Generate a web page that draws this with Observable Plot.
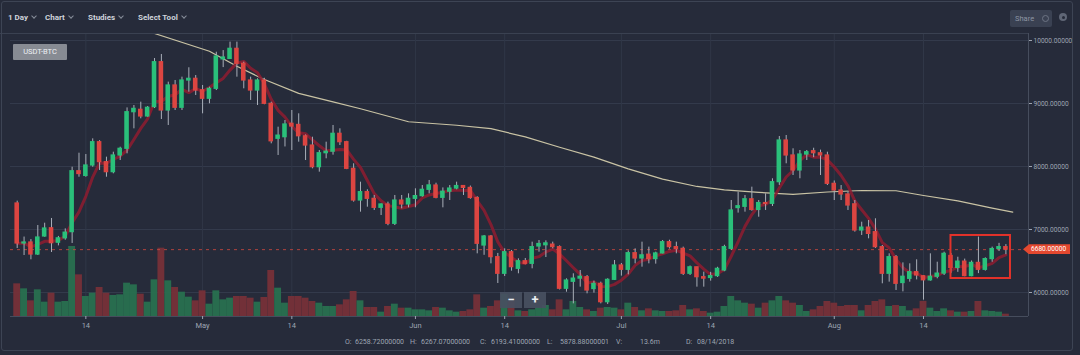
<!DOCTYPE html>
<html><head><meta charset="utf-8">
<script src="https://cdn.jsdelivr.net/npm/d3@7"></script>
<script src="https://cdn.jsdelivr.net/npm/@observablehq/plot@0.6"></script>
<style>
html,body{margin:0;padding:0;background:#262b3a;}
#wrap{position:relative;width:1080px;height:355px;overflow:hidden;background:#262b3a;font-family:Roboto,"Open Sans",sans-serif;}
.layer{position:absolute;left:0;top:0;}
.tb{position:absolute;top:13px;font-size:8px;font-weight:700;color:#cfd3db;white-space:nowrap;line-height:10px;}
.chev{display:inline-block;width:3px;height:3px;border-right:1px solid #878d9a;border-bottom:1px solid #878d9a;transform:rotate(45deg);margin-left:4px;position:relative;top:-2px;}
.info{position:absolute;top:338px;font-size:7px;color:#9ea5b2;white-space:nowrap;line-height:8px;}
</style></head><body>
<div id="wrap"></div>
<script>
// ---- data ----
const startDate = "2018-04-04", endDate = "2018-08-27"; // daily candles, Apr 4 .. Aug 26
const open = [
7413,6778,6794,6603,6889,7020,6790,6860,6958,7925,
7850,8016,8386,8069,7910,8175,8281,8862,8900,8794,
8942,9656,8889,9286,8932,9365,9392,9210,9075,9233,
9700,9708,9868,9630,9365,9206,9365,8995,8440,8465,
8678,8660,8480,8333,7989,8211,8235,8519,8386,7963,
7460,7593,7487,7344,7397,7090,7460,7397,7487,7530,
7630,7698,7503,7600,7650,7690,7660,7500,6746,6889,
6561,6297,6640,6376,6497,6455,6730,6750,6760,6720,
6059,6170,6220,6243,6055,6138,5846,6201,6429,6360,
6624,6540,6600,6530,6620,6799,6720,6693,6297,6400,
6243,6230,6260,6349,6693,7340,7360,7480,7310,7420,
7407,7751,8413,8175,7937,8190,8243,8210,8175,7725,
7619,7556,7400,6984,7030,6958,6720,6297,6561,6150,
6217,6323,6258.72,6193,6250,6300,6580,6390,6490,6260,
6470,6360,6530,6690,6720];
const high = [
7450,6880,6840,7063,7100,7175,6890,7010,7989,8211,
8190,8439,8410,8148,8227,8306,8930,8968,9021,8952,
9714,9778,9339,9365,9418,9567,9444,9286,9259,9814,
9840,9974,9974,9656,9418,9392,9400,9020,8624,8730,
8889,8836,8500,8465,8254,8386,8651,8598,8400,8043,
7751,7630,7540,7407,7434,7540,7540,7566,7646,7698,
7778,7735,7660,7698,7751,7698,7690,7520,6905,6905,
6620,6693,6667,6535,6540,6799,6825,6820,6799,6740,
6217,6297,6349,6270,6180,6164,6217,6508,6460,6660,
6693,6799,6720,6640,6825,6830,6799,6720,6420,6402,
6323,6320,6400,6750,7460,7593,7540,7672,7460,7566,
7805,8476,8492,8281,8254,8254,8290,8260,8227,7770,
7698,7593,7460,7116,7143,7170,6746,6614,6587,6470,
6455,6519,6267.07,6614,6481,6640,6620,6560,6530,6500,
6880,6550,6720,6780,6760];
const low = [
6698,6587,6519,6587,6878,6635,6740,6830,6778,7830,
7830,7989,7937,7830,7884,8095,8201,8598,8757,8783,
8920,8746,8651,8889,8889,9180,9127,8836,8995,9206,
9570,9700,9418,9233,9048,8968,8980,8360,8175,8310,
8254,8386,8095,7963,7910,8122,8180,8333,7950,7434,
7275,7354,7302,7222,7060,7063,7328,7344,7344,7513,
7566,7487,7344,7460,7630,7540,7480,6614,6590,6455,
6143,6254,6338,6297,6440,6376,6640,6555,6693,6040,
6005,5820,6085,5979,5990,5820,5810,6190,6260,6280,
6455,6402,6455,6450,6614,6690,6614,6270,6270,6085,
6085,6180,6240,6330,6667,7260,7275,7290,7195,7302,
7365,7700,8043,7857,7805,8095,8140,7857,7698,7460,
7460,7302,6958,6905,6852,6700,6138,6164,6032,6010,
6164,6200,5878.88,6180,6217,6270,6300,6320,6250,6250,
6300,6340,6480,6650,6600];
const close = [
6778,6794,6603,6873,7016,6782,6860,6950,7925,7880,
8016,8386,8069,7910,8175,8281,8862,8915,8794,8932,
9656,8889,9286,8932,9365,9392,9206,9075,9233,9746,
9730,9868,9630,9365,9206,9365,8995,8400,8490,8667,
8635,8480,8333,7989,8211,8235,8519,8386,7963,7460,
7593,7487,7344,7397,7090,7460,7397,7487,7530,7630,
7700,7503,7600,7650,7690,7660,7500,6773,6889,6561,
6297,6640,6402,6497,6455,6720,6770,6780,6720,6059,
6190,6220,6250,6032,6137,5846,6201,6429,6360,6624,
6540,6590,6530,6620,6799,6720,6690,6297,6400,6243,
6220,6260,6376,6720,7302,7370,7480,7310,7420,7405,
7751,8413,8175,7937,8190,8227,8210,8175,7725,7619,
7556,7381,6984,7030,6930,6720,6297,6561,6138,6250,
6323,6270,6193.41,6250,6300,6614,6390,6490,6260,6470,
6360,6530,6690,6720,6680];
// volume, millions
const volume = [
29.4,24.9,14.1,24.0,12.9,21.0,12.9,13.5,63.0,37.5,
18.0,21.0,26.1,21.0,18.9,19.5,30.0,28.5,20.1,12.9,
33.0,61.5,32.1,26.1,21.9,17.4,14.1,23.1,11.1,23.1,
15.0,16.5,18.0,18.0,16.5,12.9,17.1,41.4,25.5,12.0,
18.0,18.0,16.5,13.5,12.0,9.0,9.0,10.5,15.0,22.5,
14.1,8.1,8.1,3.9,9.0,11.1,7.5,7.5,6.0,6.0,
5.1,8.1,7.5,5.1,3.9,4.5,6.0,19.5,7.5,9.0,
14.1,19.8,13.5,5.1,4.5,6.0,7.5,9.9,6.0,15.0,
6.0,13.5,8.1,6.0,4.5,7.5,8.1,7.5,6.0,12.0,
8.1,5.1,6.9,5.1,4.5,4.5,5.1,9.9,6.0,6.9,
4.5,3.0,3.9,9.0,18.0,14.1,12.0,11.1,7.5,12.0,
14.1,18.0,14.1,12.0,9.9,4.5,6.0,9.0,13.5,12.0,
9.0,9.9,9.9,5.1,9.9,13.5,15.0,9.0,9.9,9.0,
5.1,6.9,13.6,7.5,4.5,6.9,5.1,3.9,3.9,4.5,
13.5,5.1,4.5,3.9,2.1];
// long moving average
const maDates = ["2018-04-18","2018-04-24","2018-05-02","2018-05-06","2018-05-10","2018-05-15","2018-05-20","2018-05-24","2018-05-31","2018-06-07","2018-06-12","2018-06-17","2018-06-22","2018-06-27","2018-07-02","2018-07-07","2018-07-12","2018-07-16","2018-07-21","2018-07-26","2018-07-31","2018-08-05","2018-08-10","2018-08-14","2018-08-19","2018-08-24","2018-08-27"];
const maValues = [10320,10111,9830,9590,9380,9160,9025,8916,8710,8655,8600,8470,8306,8148,7963,7800,7683,7630,7590,7556,7595,7619,7615,7540,7455,7340,7275];
const yTicks = [6000,7000,8000,9000,10000];
const xTickDates = ["2018-04-14","2018-05-01","2018-05-14","2018-06-01","2018-06-14","2018-07-01","2018-07-14","2018-08-01","2018-08-14"];
const xTickLabels = ["14","May","14","Jun","14","Jul","14","Aug","14"];
const lastPrice = 6680;
const boxX = ["2018-08-18T00:00Z","2018-08-26T16:00Z"];
const boxY = [6222, 6905];
const infoLabels = ["O:","6258.72000000","H:","6267.07000000","C:","6193.41000000","L:","5878.88000001","V:","13.6m","D:","08/14/2018"];
const menuItems = ["1 Day","Chart","Studies","Select Tool"];

// ---- build ----
const dates = d3.utcDays(new Date(startDate), new Date(endDate));
const candles = dates.map((date,i)=>({date, open:open[i], high:high[i], low:low[i], close:close[i], volume:volume[i]}));
const ma = maDates.map((d,i)=>({date:new Date(d), value:maValues[i]}));
const xTicks = xTickDates.map(d=>new Date(d));
const box = [{x1:new Date(boxX[0]), x2:new Date(boxX[1]), y1:boxY[0], y2:boxY[1]}];

const GREEN="#2ac07a", RED="#dc4541";
const up = d => d.close >= d.open;
const HALF = 8*3600e3, DAYH = 12*3600e3;
const xDomain=[new Date("2018-04-03T00:35:00Z"), new Date("2018-08-29T07:00:00Z")];
const yDomain=[5619, 10111];
const common = {width:1080, height:355, marginTop:33, marginBottom:39, marginLeft:10, marginRight:52,
  style:{background:"transparent", overflow:"visible", fontFamily:"Roboto, 'Open Sans', sans-serif", color:"#9ea5b2"}};

const wrap = document.getElementById("wrap");

// layer 1: grid
const gridPlot = Plot.plot({...common,
  x:{type:"utc", domain:xDomain, axis:null},
  y:{domain:yDomain, axis:null},
  marks:[
    Plot.ruleY(yTicks,{stroke:"#343b4c"}),
    Plot.ruleX(xTicks,{stroke:"#303747"})
  ]});
gridPlot.classList.add("layer"); wrap.appendChild(gridPlot);

// layer 2: volume
const volPlot = Plot.plot({...common,
  x:{type:"utc", domain:xDomain, axis:null},
  y:{domain:[0,254.7], axis:null},
  marks:[
    Plot.rectY(candles,{x1:d=>new Date(+d.date-DAYH), x2:d=>new Date(+d.date+DAYH), y:"volume",
      fill:d=>up(d)?"#28704f":"#763038", fillOpacity:0.95})
  ]});
volPlot.classList.add("layer"); wrap.appendChild(volPlot);

// layer 3: price
const pricePlot = Plot.plot({...common,
  x:{type:"utc", domain:xDomain},
  y:{domain:yDomain},
  marks:[
    Plot.ruleY([lastPrice],{stroke:"#c9483f", strokeOpacity:0.85, strokeDasharray:"3,4"}),
    Plot.line(ma,{x:"date", y:"value", stroke:"#c9c3a4", strokeWidth:1.2, clip:true}),
    Plot.lineY(candles, Plot.windowY({k:5, anchor:"end", reduce:"mean"},{x:"date", y:"close", stroke:"#8a1d31", strokeOpacity:0.9, strokeWidth:3, clip:true})),
    Plot.ruleX(candles,{x:"date", y1:"low", y2:"high", stroke:"#a9afb9", strokeWidth:1}),
    Plot.rect(candles,{x1:d=>new Date(+d.date-HALF), x2:d=>new Date(+d.date+HALF), y1:"open", y2:"close",
      fill:d=>up(d)?GREEN:RED, insetTop:-0.6, insetBottom:-0.6}),
    Plot.rect(box,{x1:"x1", x2:"x2", y1:"y1", y2:"y2", fill:"none", stroke:"#e3322a", strokeWidth:2}),
    Plot.ruleX([xDomain[1]],{stroke:"#464d5d"}),
    Plot.ruleY([yDomain[0]],{stroke:"#464d5d"}),
    Plot.axisY({ticks:yTicks, anchor:"right", tickFormat:d=>d.toFixed(5), tickSize:3, tickPadding:2, fontSize:6.6, label:null}),
    Plot.axisX({ticks:xTicks, anchor:"bottom", tickFormat:d=>xTickLabels[xTicks.findIndex(t=>+t===+d)], tickSize:3, tickPadding:3, fontSize:7.5, label:null})
  ]});
pricePlot.classList.add("layer"); wrap.appendChild(pricePlot);

// price tag
const ty = pricePlot.scale("y").apply(lastPrice);
const tag = document.createElement("div");
tag.style.cssText = `position:absolute;left:1023px;top:${ty-5}px;width:47px;height:10px;background:#e4482f;color:#fff;font-size:6.6px;line-height:10px;padding-left:8px;box-sizing:border-box;clip-path:polygon(0 50%,6px 0,100% 0,100% 100%,6px 100%);`;
tag.textContent = lastPrice.toFixed(5);
wrap.appendChild(tag);

// chrome: toolbar
const menuX = [8,45,88,138];
menuItems.forEach((t,i)=>{
  const el=document.createElement("div"); el.className="tb"; el.style.left=menuX[i]+"px";
  el.innerHTML = t + '<span class="chev"></span>'; wrap.appendChild(el);
});
function div(css, html){const e=document.createElement("div"); e.style.cssText="position:absolute;"+css; if(html) e.innerHTML=html; wrap.appendChild(e); return e;}
div("left:0;top:33px;width:1028px;height:1px;background:#3a4151;");
div("left:1px;top:1px;width:1072px;height:350px;border:1px solid #3d4454;border-radius:3px;box-sizing:border-box;");
div("left:1010px;top:10px;width:42px;height:17px;background:#3a4152;border-radius:2px;color:#8d94a2;font-size:7.5px;line-height:17px;padding-left:5px;box-sizing:border-box;", "Share");
div("left:1042px;top:15px;width:5px;height:5px;border:1px solid #6d7484;border-radius:50%;");
div("left:1059px;top:13px;width:8px;height:8px;background:#5f6676;border-radius:50%;");
div("left:1061.5px;top:15.5px;width:3px;height:3px;background:#262b3a;border-radius:50%;");
div("left:13px;top:44px;width:54px;height:16px;background:#878b93;color:#eef0f3;font-size:7.5px;line-height:16px;text-align:center;border-radius:1px;", "USDT-BTC");
// zoom buttons
div("left:500px;top:292px;width:22px;height:16px;background:rgba(72,80,97,0.92);color:#eceef2;font-size:13px;font-weight:700;text-align:center;line-height:15px;", "&minus;");
div("left:524px;top:292px;width:22px;height:16px;background:rgba(72,80,97,0.92);color:#eceef2;font-size:13px;font-weight:700;text-align:center;line-height:15px;", "+");
// info line
const infoX = [345,355,410,421,480,491,547,560,616,640,686,697];
infoLabels.forEach((t,i)=>{ const e=document.createElement("div"); e.className="info"; e.style.left=infoX[i]+"px"; e.textContent=t; wrap.appendChild(e); });
</script>
</body></html>
